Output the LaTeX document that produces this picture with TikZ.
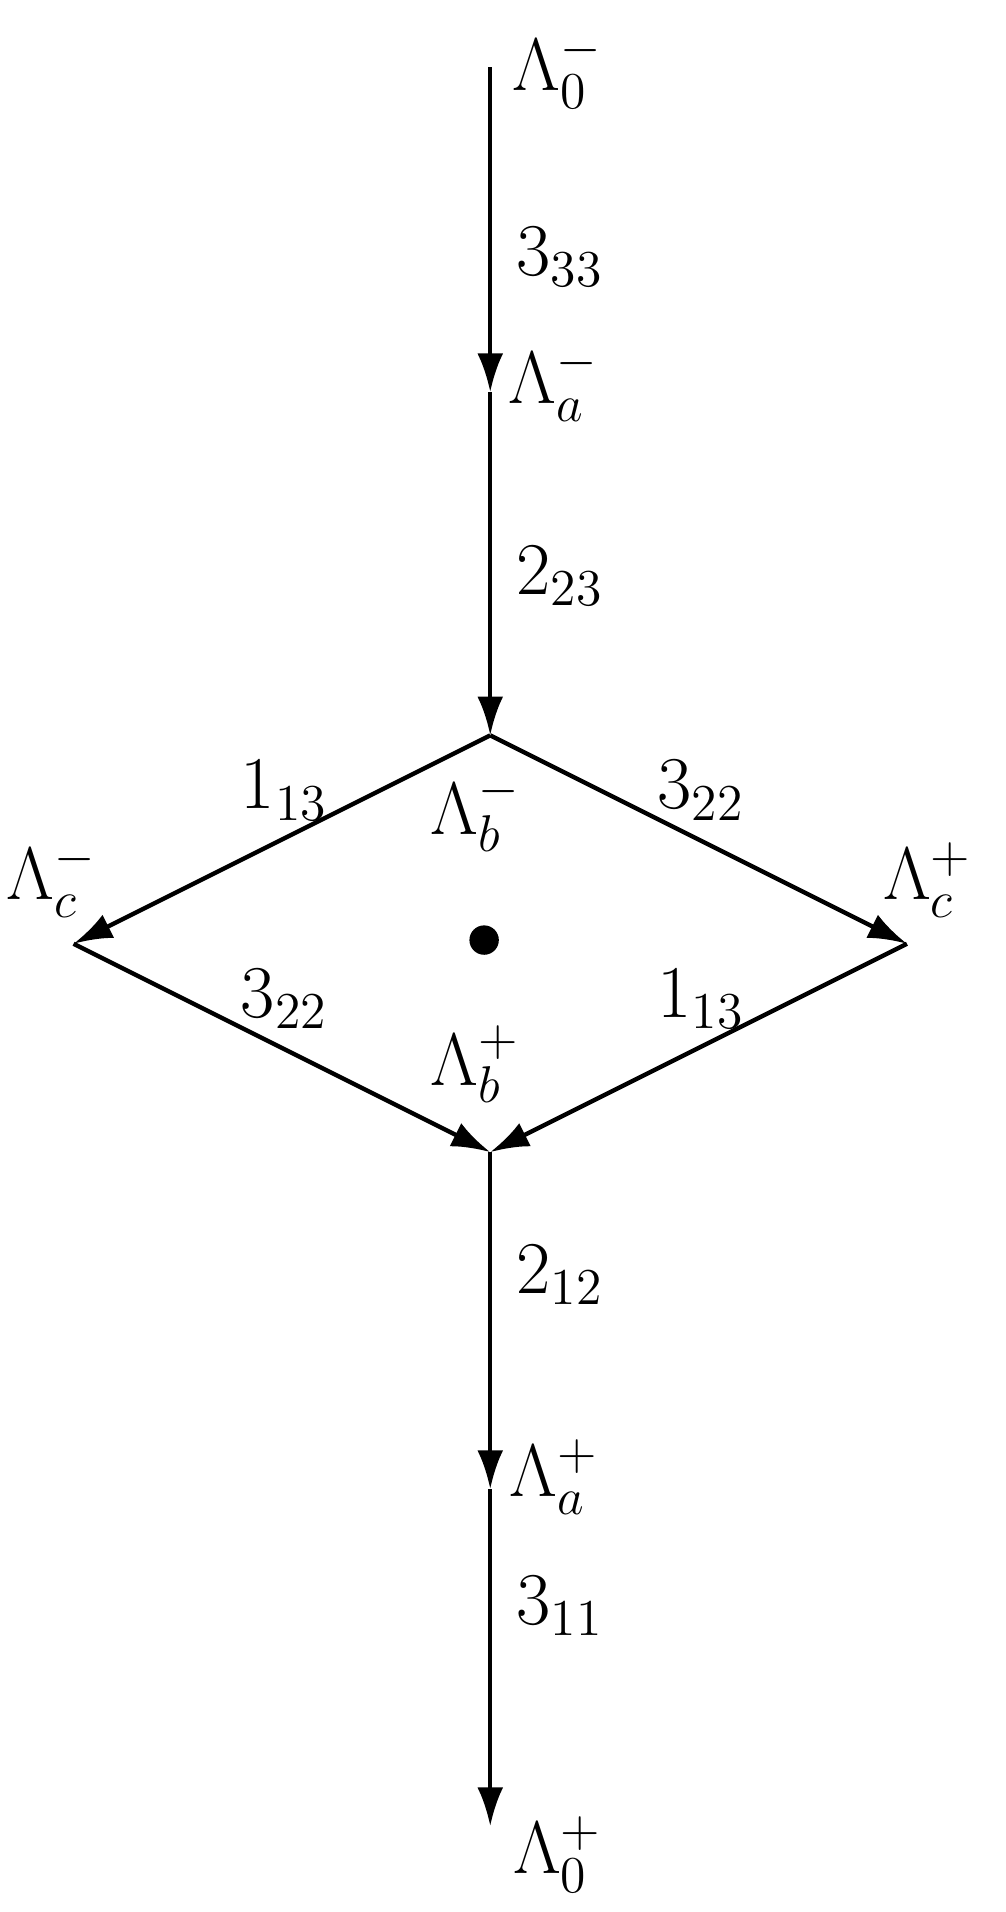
\documentclass[tikz,border=0pt]{standalone}
\usetikzlibrary{arrows.meta}
\begin{document}
\begin{tikzpicture}[x=0.01cm,y=-0.01cm,
  lbl/.style={font=\fontsize{16.5}{19}\selectfont},
  edge/.style={line width=1pt,-{Latex[length=9pt,width=6pt]}},
  plain/.style={line width=1pt}]
\useasboundingbox (0,0) rectangle (820,1560);
\coordinate (T) at (400,55);
\coordinate (A) at (400,320);
\coordinate (B) at (400,600);
\coordinate (L) at (60,770);
\coordinate (R) at (740,770);
\coordinate (Bp) at (400,940);
\coordinate (Ap) at (400,1215);
\coordinate (E) at (400,1490);
\draw[edge] (T) -- (A);
\draw[edge] (A) -- (B);
\draw[edge] (B) -- (L);
\draw[edge] (B) -- (R);
\draw[edge] (L) -- (Bp);
\draw[edge] (R) -- (Bp);
\draw[edge] (Bp) -- (Ap);
\draw[edge] (Ap) -- (E);
\fill (395,767) circle (12);
\node[lbl] (l0m) at (455,58) {$\Lambda_0^-$};
\node[lbl] (n333) at (457,210) {$3_{33}$};
\node[lbl] (lam) at (452,313) {$\Lambda_a^-$};
\node[lbl] (n223) at (457,470) {$2_{23}$};
\node[lbl] (n113a) at (232,645) {$1_{13}$};
\node[lbl] (lbm) at (388,663) {$\Lambda_b^-$};
\node[lbl] (n322a) at (572,645) {$3_{22}$};
\node[lbl] (lcm) at (42,718) {$\Lambda_c^-$};
\node[lbl] (lcp) at (757,718) {$\Lambda_c^+$};
\node[lbl] (n322b) at (232,815) {$3_{22}$};
\node[lbl] (n113b) at (572,815) {$1_{13}$};
\node[lbl] (lbp) at (388,868) {$\Lambda_b^+$};
\node[lbl] (n212) at (457,1040) {$2_{12}$};
\node[lbl] (lap) at (452,1205) {$\Lambda_a^+$};
\node[lbl] (n311) at (457,1310) {$3_{11}$};
\node[lbl] (l0p) at (455,1513) {$\Lambda_0^+$};
\end{tikzpicture}
\end{document}
